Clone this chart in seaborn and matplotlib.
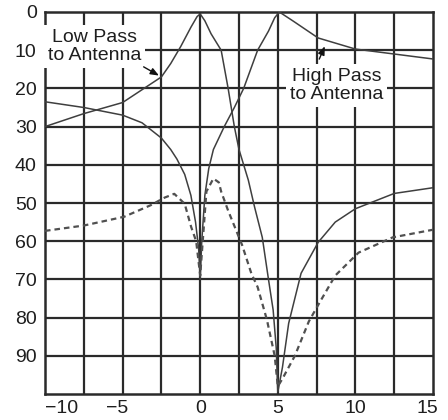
import matplotlib
matplotlib.use("Agg")
import matplotlib.pyplot as plt
import matplotlib.transforms as mtransforms
from matplotlib import font_manager
import seaborn as sns
import pandas as pd

# ---- data ----
low_x = [-10, -7.5, -5, -2.5, -1.9, -1.25, -0.6, -0.2, 0, 0.3, 0.7, 1.35, 1.8, 2.2, 2.5,
         3.1, 3.5, 4.0, 4.4, 4.7, 4.9, 5.0, 5.3, 5.7, 6.5, 7.6, 8.7, 10, 12.5, 15]
low_y = [30, 26.6, 23.7, 17, 13.5, 9, 4, 1.2, 0.5, 2.3, 5.7, 10, 20, 30, 36,
         44, 51, 59, 70, 78, 88, 99.5, 93, 81.5, 68.4, 60.3, 55, 51.5, 47.5, 46]

high_x = [-10, -7.5, -5, -3.75, -2.5, -1.9, -1.5, -1.0, -0.6, -0.3, -0.1, 0, 0.1, 0.3, 0.55,
          0.85, 1.55, 2.2, 2.8, 3.7, 4.4, 4.8, 5.1, 6, 7.6, 10, 12.5, 15]
high_y = [23.5, 25, 27, 29, 33, 36, 38.5, 42.5, 48, 55, 62, 70, 60, 48, 41,
          36, 30, 25, 20, 10, 5, 1.5, 0, 2.4, 6.8, 9.7, 11, 12.3]

dash_x = [-10, -7.5, -4.9, -3.2, -2.3, -1.67, -1.0, -0.58, -0.26, 0, 0.2, 0.4, 0.85, 1.2,
          1.35, 1.8, 2.2, 2.7, 3.3, 3.7, 4.3, 4.8, 5.0, 5.3, 6.1, 7.0, 7.7, 8.7, 10.2, 12.4, 15]
dash_y = [57.3, 55.9, 53.6, 50.6, 48.6, 47.6, 50.2, 56.3, 60, 69, 58, 47, 43.6, 44.6,
          47, 52, 56, 61, 68.5, 72, 80.6, 90, 98, 96, 90, 81, 76, 69, 63, 59, 57]

x_ticks = [-10, -5, 0, 5, 10, 15]
x_labels = ["\u221210", "\u22125", "0", "5", "10", "15"]
y_ticks = [0, 10, 20, 30, 40, 50, 60, 70, 80, 90]
y_labels = ["0", "10", "20", "30", "40", "50", "60", "70", "80", "90"]

# ---- style ----
sns.set_style("white")
names = {f.name for f in font_manager.fontManager.ttflist}
if "Liberation Sans Narrow" in names:
    fam = "Liberation Sans Narrow"
    fs = 15
elif "Liberation Sans" in names:
    fam = "Liberation Sans"
    fs = 14
else:
    fam = "DejaVu Sans"
    fs = 13
plt.rcParams["font.family"] = [fam, "DejaVu Sans"]

fig = plt.figure(figsize=(4.48, 4.2), dpi=100)
ax = fig.add_axes([45 / 448, 1 - 394 / 420, 388 / 448, 382 / 420])

grid_c = "#2a2a2a"
curve_c = "#3f3f3f"
text_c = "#1e1e1e"

low_df = pd.DataFrame({"x": low_x, "y": low_y})
high_df = pd.DataFrame({"x": high_x, "y": high_y})
dash_df = pd.DataFrame({"x": dash_x, "y": dash_y})

sns.lineplot(data=low_df, x="x", y="y", ax=ax, color=curve_c, lw=1.1, sort=False, zorder=5)
sns.lineplot(data=high_df, x="x", y="y", ax=ax, color=curve_c, lw=1.1, sort=False, zorder=5)
sns.lineplot(data=dash_df, x="x", y="y", ax=ax, color="#505050", lw=1.6, sort=False,
             zorder=5, dashes=False, linestyle=(0, (2.5, 1.8)))

ax.set_xlim(-10, 15)
ax.set_ylim(100, 0)

# grid
for gx in [-7.5, -5, -2.5, 0, 2.5, 5, 7.5, 10, 12.5]:
    ax.axvline(gx, color=grid_c, lw=1.6, zorder=1)
for gy in y_ticks[1:]:
    ax.axhline(gy, color=grid_c, lw=1.6, zorder=1)
for s in ax.spines.values():
    s.set_color(grid_c)
    s.set_linewidth(1.8)

ax.set_xticks(x_ticks)
ax.set_xticklabels(x_labels)
ax.set_yticks(y_ticks)
ax.set_yticklabels(y_labels)
ax.tick_params(axis="both", length=0, labelsize=fs, colors=text_c)
ax.tick_params(axis="y", pad=6)
ax.tick_params(axis="x", pad=4)
ax.set_xlabel("")
ax.set_ylabel("")

# adjust edge x labels like the reference
xl = ax.get_xticklabels()
xl[0].set_horizontalalignment("left")
xl[1].set_transform(xl[1].get_transform() + mtransforms.ScaledTranslation(-5 / 100, 0, fig.dpi_scale_trans))
xl[5].set_horizontalalignment("right")
xl[5].set_transform(xl[5].get_transform() + mtransforms.ScaledTranslation(5 / 100, 0, fig.dpi_scale_trans))

box = dict(boxstyle="square,pad=0.2", fc="white", ec="none")
ax.text(-6.8, 9.0, "Low Pass\nto Antenna", ha="center", va="center", fontsize=fs,
        color=text_c, bbox=box, zorder=3, linespacing=1.1)
ax.text(8.8, 19.3, "High Pass\nto Antenna", ha="center", va="center", fontsize=fs,
        color=text_c, bbox=box, zorder=3, linespacing=1.1)

arrow = dict(arrowstyle="-|>,head_length=0.5,head_width=0.2", color="#111111", lw=1.0)
ax.annotate("", xy=(-2.5, 17), xytext=(-3.8, 14), arrowprops=arrow, zorder=6)
ax.annotate("", xy=(8.1, 8.3), xytext=(7.6, 13.0), arrowprops=arrow, zorder=6)

fig.savefig("out.png", dpi=100, facecolor="white")
